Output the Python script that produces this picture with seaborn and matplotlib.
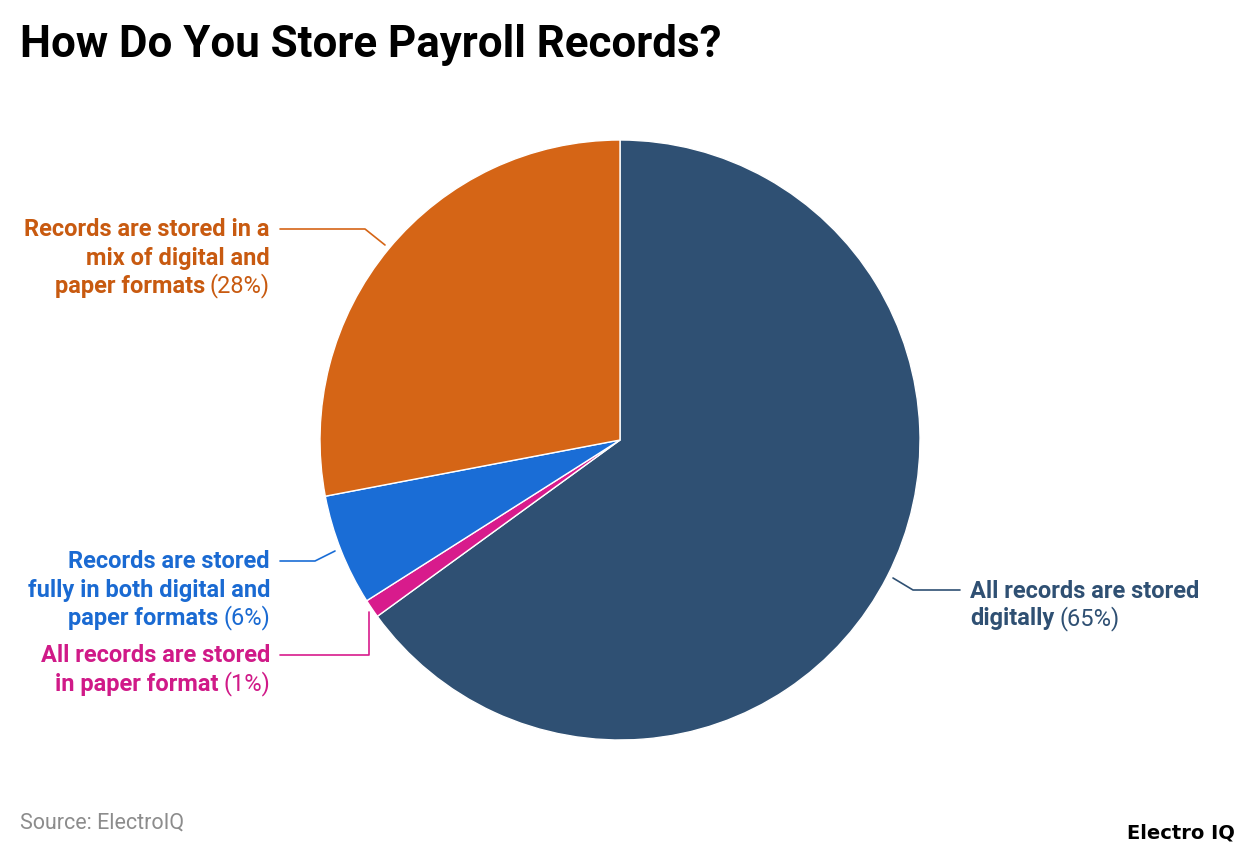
import matplotlib
matplotlib.use("Agg")
import matplotlib.pyplot as plt
import seaborn as sns

sns.set_theme(style="white")
plt.rcParams['font.family'] = ['Roboto', 'DejaVu Sans']

# data
categories = [
    "All records are stored digitally",
    "All records are stored in paper format",
    "Records are stored fully in both digital and paper formats",
    "Records are stored in a mix of digital and paper formats",
]
shares = [65, 1, 6, 28]
slice_colors = ["#2f5073", "#d81b8c", "#1a6dd6", "#d56516"]
text_colors = ["#2f5073", "#d01a88", "#1a6ad2", "#c85a10"]

# label text, bold lines; last line gets the regular "(xx%)"
label_lines = [
    ["All records are stored", "digitally"],
    ["All records are stored", "in paper format"],
    ["Records are stored", "fully in both digital and", "paper formats"],
    ["Records are stored in a", "mix of digital and", "paper formats"],
]

W, H = 1240, 856
fig = plt.figure(figsize=(W / 100, H / 100), dpi=100)
cx, cy, r = 620, 440, 300
ax = fig.add_axes([(cx - r) / W, (H - cy - r) / H, 2 * r / W, 2 * r / H])
ax.pie(shares, colors=slice_colors, startangle=90, counterclock=False,
       radius=1, wedgeprops=dict(edgecolor="white", linewidth=1))
ax.set_xlim(-1, 1)
ax.set_ylim(-1, 1)
ax.set_aspect("equal")
ax.axis("off")


def d(px, py):
    # figure pixel (top-left origin) -> data coords
    return ((px - cx) / r, (cy - py) / r)


# leader lines (pixel paths) and text anchor for each label
leaders = [
    [(893, 578), (913, 590), (960, 590)],
    [(369, 612), (369, 655), (280, 655)],
    [(335, 551), (315, 561), (280, 561)],
    [(385, 245), (365, 229), (280, 229)],
]
anchors = [(970, 591, "left"), (270, 656, "right"), (270, 562, "right"), (270, 230, "right")]
line_h = 28
fs = 17

fig.canvas.draw()
renderer = fig.canvas.get_renderer()

for i in range(len(categories)):
    pts = [d(*p) for p in leaders[i]]
    ax.plot([p[0] for p in pts], [p[1] for p in pts], color=slice_colors[i], lw=1.2,
            clip_on=False)
    tx, ty, ha = anchors[i]
    lines = label_lines[i]
    pct = f"({shares[i]}%)"
    for j, ln in enumerate(lines):
        y = ty + j * line_h
        last = j == len(lines) - 1
        if ha == "right":
            if last:
                t = fig.text(tx / W, 1 - y / H, pct, ha="right", va="center",
                             fontsize=fs, color=text_colors[i])
                wpx = t.get_window_extent(renderer).width
                fig.text((tx - wpx - 5) / W, 1 - y / H, ln, ha="right", va="center",
                         fontsize=fs, fontweight="bold", color=text_colors[i])
            else:
                fig.text(tx / W, 1 - y / H, ln, ha="right", va="center",
                         fontsize=fs, fontweight="bold", color=text_colors[i])
        else:
            t = fig.text(tx / W, 1 - y / H, ln, ha="left", va="center",
                         fontsize=fs, fontweight="bold", color=text_colors[i])
            if last:
                wpx = t.get_window_extent(renderer).width
                fig.text((tx + wpx + 5) / W, 1 - y / H, pct, ha="left", va="center",
                         fontsize=fs, color=text_colors[i])

fig.text(20 / W, 1 - 45 / H, "How Do You Store Payroll Records?", ha="left", va="center",
         fontsize=31.6, fontweight="bold", color="black")
fig.text(20 / W, 1 - 823 / H, "Source: ElectroIQ", ha="left", va="center",
         fontsize=15.5, color="#8c8c8c")
fig.text(1235 / W, 1 - 833 / H, "Electro IQ", ha="right", va="center",
         fontsize=14, fontweight="bold", color="black", family="DejaVu Sans")

fig.savefig("out.png", dpi=100, facecolor="white")
